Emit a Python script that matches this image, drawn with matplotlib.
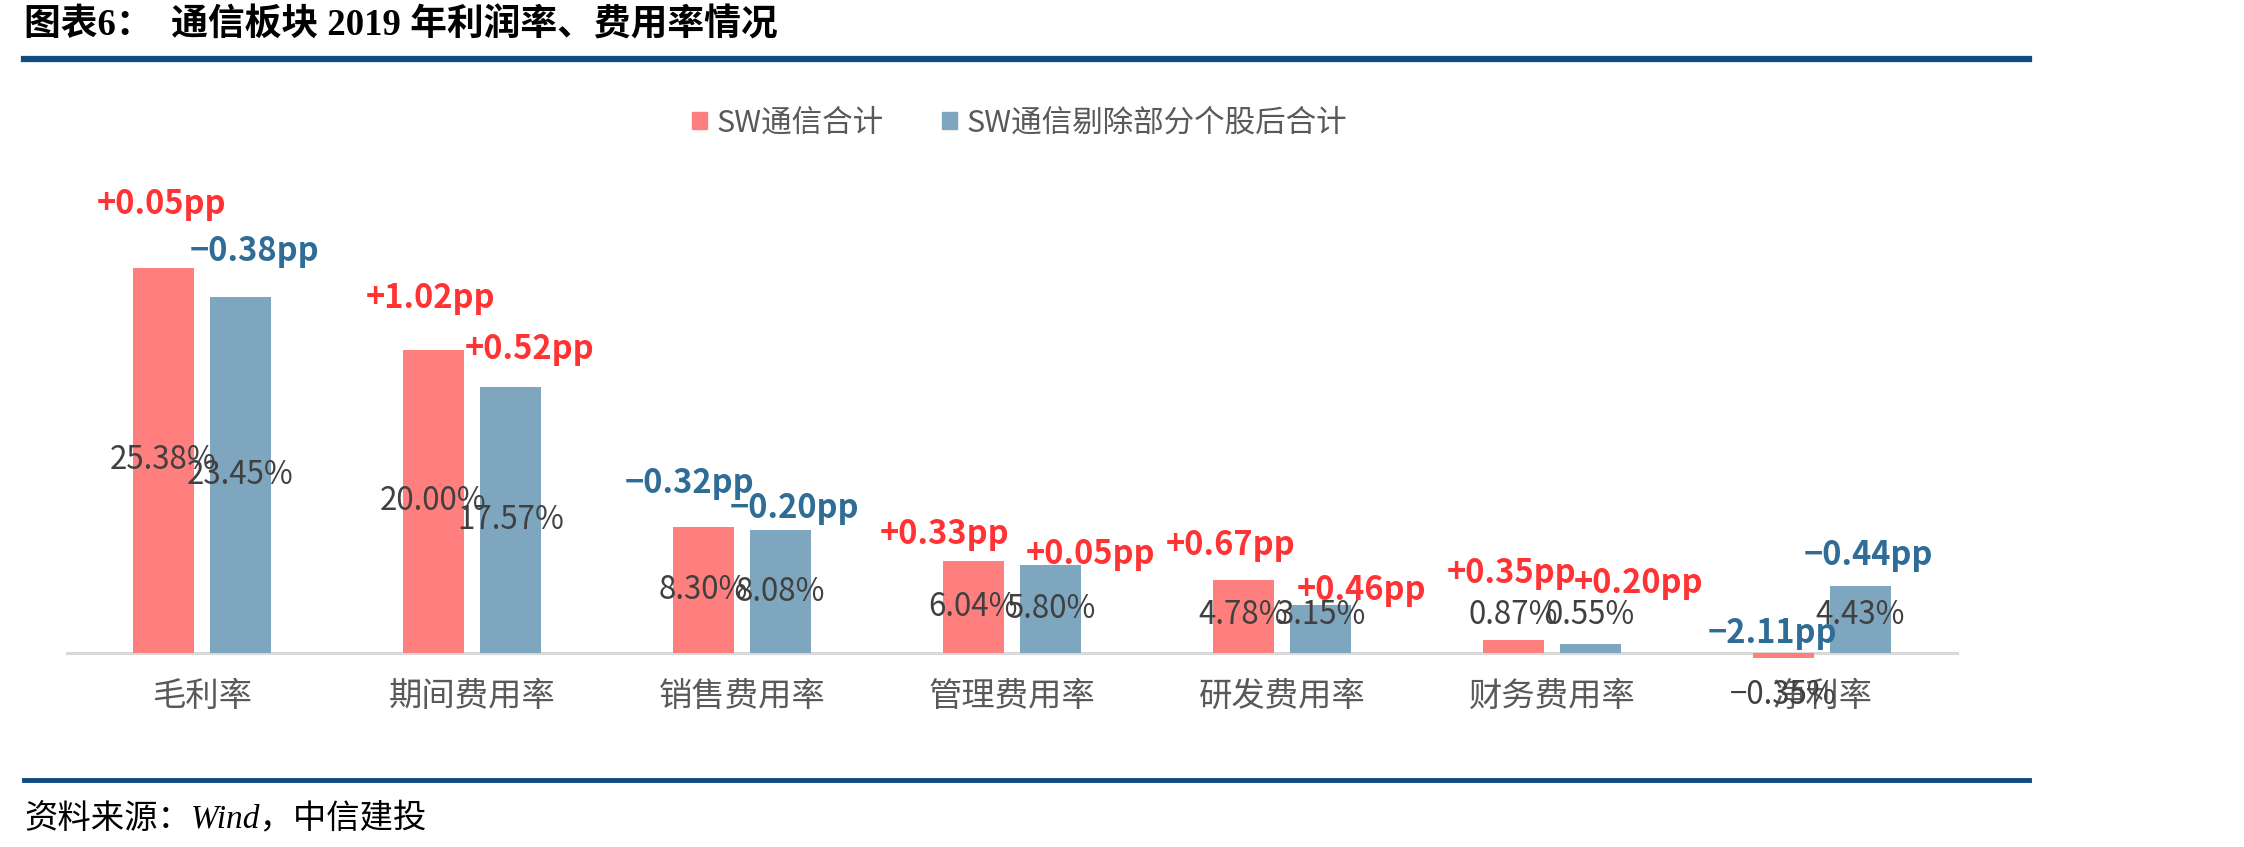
import matplotlib.pyplot as plt
import numpy as np
from matplotlib.patches import Patch

plt.rcParams['font.family'] = ['Noto Sans CJK SC', 'DejaVu Sans']
plt.rcParams['axes.unicode_minus'] = True

categories = ['毛利率', '期间费用率', '销售费用率', '管理费用率', '研发费用率', '财务费用率', '净利率']
sw_total = [25.38, 20.00, 8.30, 6.04, 4.78, 0.87, -0.35]
sw_adjusted = [23.45, 17.57, 8.08, 5.80, 3.15, 0.55, 4.43]
sw_total_chg = [0.05, 1.02, -0.32, 0.33, 0.67, 0.35, -2.11]
sw_adjusted_chg = [-0.38, 0.52, -0.20, 0.05, 0.46, 0.20, -0.44]
series_names = ['SW通信合计', 'SW通信剔除部分个股后合计']

# where the pp labels sit, in pixels from the bar top
total_off = [(-2, 64), (-3, 51), (-14, 43), (-29, 27), (-13, 35), (-2, 66), (-11, 19)]
adjusted_off = [(14, 46), (19, 37), (14, 22), (40, 10), (41, 15), (48, 61), (8, 30)]

red = '#FF7F7F'
blue = '#7FA6BF'
pos_col = '#FF3333'
neg_col = '#2F6D97'
line_blue = '#0E4B82'

fig = plt.figure(figsize=(22.44, 8.47), dpi=100)
ax = fig.add_axes([67 / 2244, 0.1757, 1890 / 2244, 0.5903])

x = np.arange(len(categories))
w = 0.226
d = 0.1426
ax.bar(x - d, sw_total, w, color=red, zorder=2)
ax.bar(x + d, sw_adjusted, w, color=blue, zorder=2)
ax.set_xlim(-0.5, 6.5)
ax.set_ylim(-3, 30)

for spine in ['top', 'right', 'left']:
    ax.spines[spine].set_visible(False)
ax.spines['bottom'].set_position(('data', 0))
ax.spines['bottom'].set_color('#D9D9D9')
ax.spines['bottom'].set_linewidth(2.2)
ax.spines['bottom'].set_zorder(1)
ax.set_yticks([])
ax.set_xticks(x)
ax.set_xticklabels(categories, fontsize=24, color='#595959')
ax.tick_params(axis='x', length=0, pad=19)


def fmt_pp(v):
    s = '+' if v >= 0 else '−'
    return s + '%.2fpp' % abs(v)


def fmt_val(v):
    s = '−' if v < 0 else ''
    return s + '%.2f%%' % abs(v)


for vals, chg, off, sign in [(sw_total, sw_total_chg, total_off, -1),
                             (sw_adjusted, sw_adjusted_chg, adjusted_off, 1)]:
    for i, v in enumerate(vals):
        xc = x[i] + sign * d
        if v < 0:
            ly, dy = v / 2, -40
        else:
            ly, dy = max(v / 2, 2.5), 0
        ax.annotate(fmt_val(v), (xc, ly), xytext=(0, dy), textcoords='offset pixels',
                    ha='center', va='center', fontsize=22.5, color='#404040', zorder=5)
        ax.annotate(fmt_pp(chg[i]), (xc, max(v, 0)), xytext=off[i], textcoords='offset pixels',
                    ha='center', va='center', fontsize=23.5, fontweight='bold',
                    color=pos_col if chg[i] >= 0 else neg_col, zorder=6)

handles = [Patch(color=red), Patch(color=blue)]
fig.legend(handles, series_names, loc='center', bbox_to_anchor=(0.4543, 0.8548), ncol=2,
           frameon=False, fontsize=22, handlelength=0.5, handleheight=0.5,
           handletextpad=0.3, columnspacing=1.9, labelcolor='#595959')

fig.text(24 / 2244, 1 - 26 / 847, '图表6：  通信板块 2019 年利润率、费用率情况',
         fontsize=26.5, fontweight='heavy', ha='left', va='center',
         family=['Liberation Serif', 'Noto Sans CJK SC'])
fig.add_artist(plt.Line2D([24 / 2244, 2029 / 2244], [1 - 59 / 847] * 2, color=line_blue, lw=4.5))
fig.add_artist(plt.Line2D([24 / 2244, 2029 / 2244], [1 - 780 / 847] * 2, color=line_blue, lw=3.5))
fig.text(24 / 2244, 1 - 818 / 847, '资料来源：Wind，中信建投', fontsize=24, style='italic',
         ha='left', va='center', family=['Liberation Serif', 'Noto Sans CJK SC'])

fig.savefig('out.png', dpi=100)
